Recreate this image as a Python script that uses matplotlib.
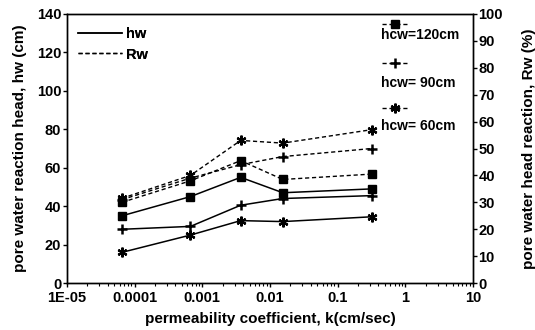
import numpy as np
import matplotlib
matplotlib.use("Agg")
import matplotlib.pyplot as plt
from matplotlib.lines import Line2D

# permeability coefficient k (cm/sec)
k = [6.5e-5, 6.7e-4, 3.7e-3, 1.55e-2, 3.2e-1]

# pore water reaction head hw (cm)
hw_120 = [35, 45, 55, 47, 49]
hw_90 = [28, 29.5, 40.5, 44, 45.5]
hw_60 = [16, 25, 32.5, 32, 34.5]

# pore water head reaction Rw (%)
rw_120 = [30, 38, 45.5, 38.5, 40.5]
rw_90 = [31, 39, 44, 47, 50]
rw_60 = [31.5, 40, 53, 52, 57]

cases = ["hcw=120cm", "hcw= 90cm", "hcw= 60cm"]
xticks = [1e-5, 1e-4, 1e-3, 1e-2, 1e-1, 1, 10]
xticklabels = ["1E-05", "0.0001", "0.001", "0.01", "0.1", "1", "10"]

plt.rcParams["font.family"] = ["Liberation Sans", "DejaVu Sans"]
plt.rcParams["font.weight"] = "bold"

fig = plt.figure(figsize=(5.35, 3.3), dpi=100)
ax = fig.add_axes([0.125, 0.142, 0.759, 0.816])
ax2 = ax.twinx()

styles = [("s", 6, 1.0), ("+", 7, 1.8), ((6, 2, 0), 7, 1.6)]
dash = (0, (3, 2))

for hw, rw, (m, ms, mew) in zip([hw_120, hw_90, hw_60], [rw_120, rw_90, rw_60], styles):
    ax.plot(k, hw, color="black", lw=1.1, marker=m, ms=ms, mew=mew)
    ax2.plot(k, rw, color="black", lw=1.0, ls=dash, marker=m, ms=ms, mew=mew)

ax.set_xscale("log")
ax.set_xlim(1e-5, 10)
ax.set_xticks(xticks)
ax.set_xticklabels(xticklabels)
ax.set_ylim(0, 140)
ax.set_yticks(np.arange(0, 141, 20))
ax2.set_ylim(0, 100)
ax2.set_yticks(np.arange(0, 101, 10))

for a in (ax, ax2):
    a.tick_params(direction="out", labelsize=10.5, length=3, width=1, pad=1)
    a.tick_params(which="minor", direction="out", length=2.5, width=0.8)
    for s in a.spines.values():
        s.set_linewidth(1.0)
ax.tick_params(axis="x", pad=3)

ax.set_xlabel("permeability coefficient, k(cm/sec)", fontsize=11, fontweight="bold", labelpad=5)
ax.set_ylabel("pore water reaction head, hw (cm)", fontsize=11, fontweight="bold", labelpad=7)
ax2.set_ylabel("pore water head reaction, Rw (%)", fontsize=11, fontweight="bold", labelpad=14)

# legend: line type
leg1 = ax.legend([Line2D([], [], color="black", lw=1.1),
                  Line2D([], [], color="black", lw=1.0, ls=dash)],
                 ["hw", "Rw"], loc="upper left", bbox_to_anchor=(-0.005, 1.0),
                 frameon=False, fontsize=10.5, handlelength=3.0, labelspacing=0.45,
                 handletextpad=0.3)
ax.add_artist(leg1)

# legend: cases, handle above each label
handle_y = [0.963, 0.818, 0.651]
label_y = [0.922, 0.743, 0.584]
for (m, ms, mew), lab, yh, yl in zip(styles, cases, handle_y, label_y):
    ax.add_line(Line2D([0.776, 0.842], [yh, yh], transform=ax.transAxes,
                       color="black", lw=1.0, ls=dash))
    ax.add_line(Line2D([0.809], [yh], transform=ax.transAxes, color="black",
                       marker=m, ms=ms, mew=mew, ls="none"))
    ax.text(0.774, yl, lab, transform=ax.transAxes, fontsize=10,
            fontweight="bold", va="center", ha="left")

fig.savefig("out.png", dpi=100)
